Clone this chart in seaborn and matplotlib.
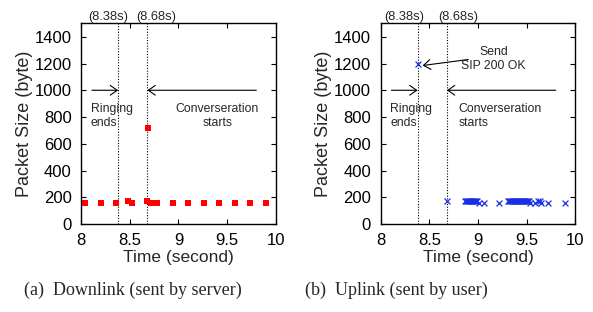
"""Packet size over time around call setup: downlink vs uplink."""

import matplotlib
matplotlib.use('Agg')
import matplotlib.pyplot as plt
import pandas as pd
import seaborn as sns

# Downlink (sent by server)
down_time = [8.04, 8.20, 8.36, 8.48, 8.52, 8.68, 8.69, 8.72, 8.78, 8.94,
             9.10, 9.26, 9.42, 9.58, 9.74, 9.90]
down_size = [155, 155, 155, 170, 155, 170, 720, 155, 155, 155,
             155, 155, 155, 155, 155, 155]

# Uplink (sent by user)
up_time = [8.38, 8.68,
           8.87, 8.88, 8.89, 8.90, 8.91, 8.92, 8.93, 8.94, 8.95, 8.96, 8.97,
           8.98, 8.99, 9.01, 9.06, 9.22,
           9.31, 9.32, 9.33, 9.34, 9.35, 9.36, 9.37, 9.38, 9.39, 9.40, 9.41,
           9.42, 9.43, 9.44, 9.45, 9.46, 9.47, 9.48, 9.49, 9.50, 9.51, 9.52,
           9.54, 9.59, 9.62, 9.64, 9.65, 9.72, 9.89]
up_size = [1200, 170,
           170, 170, 170, 170, 170, 170, 170, 170, 170, 170, 170,
           170, 170, 155, 155, 155,
           170, 170, 170, 170, 170, 170, 170, 170, 170, 170, 170,
           170, 170, 170, 170, 170, 170, 170, 170, 170, 170, 170,
           155, 155, 170, 170, 155, 155, 155]

x_ticks = [8, 8.5, 9, 9.5, 10]
x_tick_labels = ['8', '8.5', '9', '9.5', '10']
y_ticks = [0, 200, 400, 600, 800, 1000, 1200, 1400]
ringing_end = 8.38
conv_start = 8.68

sns.set_style('ticks')
plt.rcParams['font.family'] = ['Liberation Sans', 'DejaVu Sans']

fig = plt.figure(figsize=(5.93, 3.12), dpi=100)
ax_down = fig.add_axes([0.137, 0.282, 0.328, 0.643])
ax_up = fig.add_axes([0.642, 0.282, 0.328, 0.643])

down_df = pd.DataFrame({'time': down_time, 'size': down_size})
up_df = pd.DataFrame({'time': up_time, 'size': up_size})

sns.scatterplot(data=down_df, x='time', y='size', ax=ax_down, marker='s',
                color='#ff0000', s=16, linewidth=0, zorder=3)
sns.scatterplot(data=up_df, x='time', y='size', ax=ax_up, marker='x',
                color='#1a2ee6', s=18, linewidth=0.9, zorder=3)

arrow_kw = dict(arrowstyle='->,head_length=0.5,head_width=0.35', lw=0.8,
                color='black', shrinkA=0, shrinkB=0)
small = 8.8

for ax in (ax_down, ax_up):
    ax.set_xlim(8, 10)
    ax.set_ylim(0, 1500)
    ax.set_xticks(x_ticks)
    ax.set_xticklabels(x_tick_labels)
    ax.set_yticks(y_ticks)
    ax.tick_params(direction='in', length=3.5, width=0.8, labelsize=12,
                   top=True, right=True, colors='black')
    ax.tick_params(axis='x', pad=6.5)
    ax.tick_params(axis='y', pad=7)
    for sp in ax.spines.values():
        sp.set_linewidth(1.0)
        sp.set_color('black')
    ax.set_xlabel('Time (second)', fontsize=12.5)
    ax.set_ylabel('Packet Size (byte)', fontsize=13)
    ax.xaxis.set_label_coords(0.5, -0.128)
    ax.yaxis.set_label_coords(-0.25, 0.5)
    ax.axvline(ringing_end, color='black', ls=(0, (1, 1.5)), lw=0.8)
    ax.axvline(conv_start, color='black', ls=(0, (1, 1.5)), lw=0.8)
    ax.annotate('', xy=(ringing_end, 1000), xytext=(8.11, 1000),
                arrowprops=arrow_kw)
    ax.annotate('', xy=(conv_start, 1000), xytext=(9.80, 1000),
                arrowprops=arrow_kw)
    ax.text(8.10, 805, 'Ringing\nends', fontsize=small, ha='left',
            va='center', linespacing=1.25)

# Downlink annotations
ax_down.text(9.40, 805, 'Converseration\nstarts', fontsize=small,
             ha='center', va='center', linespacing=1.25)
ax_down.text(8.28, 1545, '(8.38s)', fontsize=9.3, ha='center', va='center')
ax_down.text(8.77, 1545, '(8.68s)', fontsize=9.3, ha='center', va='center')

# Uplink annotations
ax_up.text(8.80, 805, 'Converseration\nstarts', fontsize=small,
           ha='left', va='center', linespacing=1.25)
ax_up.text(8.24, 1545, '(8.38s)', fontsize=9.3, ha='center', va='center')
ax_up.text(8.80, 1545, '(8.68s)', fontsize=9.3, ha='center', va='center')
ax_up.text(9.16, 1235, 'Send\nSIP 200 OK', fontsize=small, ha='center',
           va='center', linespacing=1.25)
ax_up.annotate('', xy=(8.43, 1185), xytext=(8.90, 1230), arrowprops=arrow_kw)

for a in (ax_down, ax_up):
    for t in a.texts:
        t.set_clip_on(False)

cap_font = ['Liberation Serif', 'DejaVu Serif']
fig.text(133 / 593, 1 - 290 / 312, '(a)  Downlink (sent by server)',
         fontsize=13, family=cap_font, ha='center', va='center')
fig.text(396 / 593, 1 - 290 / 312, '(b)  Uplink (sent by user)',
         fontsize=13, family=cap_font, ha='center', va='center')

plt.savefig('out.png', dpi=100)
plt.close()
